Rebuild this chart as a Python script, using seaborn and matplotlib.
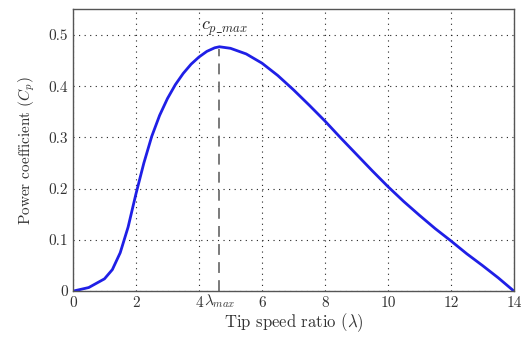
import numpy as np
import pandas as pd
import matplotlib
matplotlib.use("Agg")
import matplotlib.pyplot as plt
import seaborn as sns

# Cp - lambda curve
tsr = [0.0, 0.5, 1.0, 1.25, 1.5, 1.75, 2.0, 2.25, 2.5, 2.75, 3.0, 3.25, 3.5,
       3.75, 4.0, 4.25, 4.5, 4.65, 5.0, 5.5, 6.0, 6.5, 7.0, 7.5, 8.0, 8.5,
       9.0, 9.5, 10.0, 10.5, 11.0, 11.5, 12.0, 12.5, 13.0, 13.5, 14.0]
cp = [0.0, 0.007, 0.024, 0.042, 0.075, 0.125, 0.19, 0.25, 0.302, 0.343, 0.376, 0.403, 0.425,
      0.443, 0.457, 0.468, 0.475, 0.477, 0.474, 0.463, 0.445, 0.421, 0.393, 0.363, 0.332, 0.299,
      0.267, 0.235, 0.204, 0.175, 0.148, 0.122, 0.098, 0.073, 0.050, 0.026, 0.0]
lam_max = 4.65
cp_max = 0.477
x_ticks = [0, 2, 4, 6, 8, 10, 12, 14]
y_ticks = [0, 0.1, 0.2, 0.3, 0.4, 0.5]
y_labels = ["0", "0.1", "0.2", "0.3", "0.4", "0.5"]

df = pd.DataFrame({"tsr": tsr, "cp": cp})

sns.set_style("white")
plt.rcParams["font.family"] = ["cmr10", "DejaVu Serif"]
plt.rcParams["mathtext.fontset"] = "cm"
plt.rcParams["axes.unicode_minus"] = False

fig = plt.figure(figsize=(5.25, 3.47), dpi=100)
ax = fig.add_axes([0.139, 0.161, 0.840, 0.812])

sns.lineplot(data=df, x="tsr", y="cp", ax=ax, color="#1f1fe6", linewidth=2,
             sort=False, estimator=None)

ax.plot([lam_max, lam_max], [0, cp_max - 0.005], color="#707070",
        linestyle=(0, (6, 4)), linewidth=1.3)
ax.text(lam_max + 0.15, 0.495, r"$c_{p\_max}$", ha="center", va="bottom", fontsize=13)

ax.set_xlim(0, 14)
ax.set_ylim(0, 0.55)
ax.set_xticks(x_ticks)
ax.set_xticklabels([str(t) for t in x_ticks])
ax.set_xticks([lam_max], minor=True)
ax.set_xticklabels([r"$\lambda_{max}$"], minor=True, fontsize=14)
ax.set_yticks(y_ticks)
ax.set_yticklabels(y_labels)
ax.tick_params(axis="both", which="both", direction="in", length=4,
               labelsize=11, colors="#333333")
ax.tick_params(axis="x", which="major", pad=4)
ax.tick_params(axis="x", which="minor", pad=1)
ax.grid(True, which="major", linestyle=(0, (1, 4)), color="#222222", linewidth=0.8)

for s in ax.spines.values():
    s.set_color("#555555")
    s.set_linewidth(1)

ax.set_xlabel(r"Tip speed ratio ($\lambda$)", fontsize=12, color="#333333")
ax.xaxis.set_label_coords(0.5, -0.07)
ax.set_ylabel(r"Power coefficient ($C_p$)", fontsize=11, color="#333333", labelpad=8)

fig.savefig("out.png", dpi=100)
